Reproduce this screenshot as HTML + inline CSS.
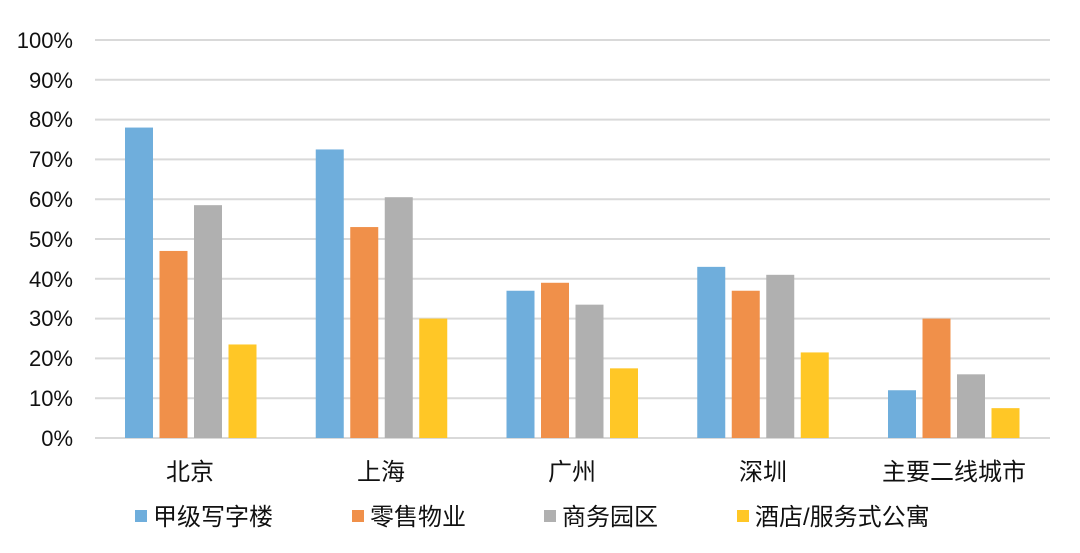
<!DOCTYPE html>
<html><head><meta charset="utf-8"><style>
html,body{margin:0;padding:0;background:#fff;}
svg text{font-family:"Liberation Sans","Noto Sans CJK SC",sans-serif;fill:#111;}
</style></head><body>
<svg width="1080" height="548" xmlns="http://www.w3.org/2000/svg">
<g stroke="#d9d9d9" stroke-width="2">
<line x1="95" x2="1050" y1="40" y2="40"/><line x1="95" x2="1050" y1="79.8" y2="79.8"/>
<line x1="95" x2="1050" y1="119.6" y2="119.6"/><line x1="95" x2="1050" y1="159.4" y2="159.4"/>
<line x1="95" x2="1050" y1="199.2" y2="199.2"/><line x1="95" x2="1050" y1="239" y2="239"/>
<line x1="95" x2="1050" y1="278.8" y2="278.8"/><line x1="95" x2="1050" y1="318.6" y2="318.6"/>
<line x1="95" x2="1050" y1="358.4" y2="358.4"/><line x1="95" x2="1050" y1="398.2" y2="398.2"/>
<line x1="95" x2="1050" y1="438" y2="438"/>
</g>
<g font-size="22" text-anchor="end">
<text x="73" y="48">100%</text><text x="73" y="88">90%</text><text x="73" y="127">80%</text>
<text x="73" y="167">70%</text><text x="73" y="207">60%</text><text x="73" y="247">50%</text>
<text x="73" y="287">40%</text><text x="73" y="326">30%</text><text x="73" y="366">20%</text>
<text x="73" y="406">10%</text><text x="73" y="446">0%</text>
</g>
<g>
<rect x="125" y="127.56" width="28" height="310.44" fill="#6FAEDC"/>
<rect x="159.5" y="250.94" width="28" height="187.06" fill="#F0904A"/>
<rect x="194" y="205.17" width="28" height="232.83" fill="#B0B0B0"/>
<rect x="228.5" y="344.47" width="28" height="93.53" fill="#FFC726"/>
<rect x="315.75" y="149.45" width="28" height="288.55" fill="#6FAEDC"/>
<rect x="350.25" y="227.06" width="28" height="210.94" fill="#F0904A"/>
<rect x="384.75" y="197.21" width="28" height="240.79" fill="#B0B0B0"/>
<rect x="419.25" y="318.6" width="28" height="119.4" fill="#FFC726"/>
<rect x="506.5" y="290.74" width="28" height="147.26" fill="#6FAEDC"/>
<rect x="541" y="282.78" width="28" height="155.22" fill="#F0904A"/>
<rect x="575.5" y="304.67" width="28" height="133.33" fill="#B0B0B0"/>
<rect x="610" y="368.35" width="28" height="69.65" fill="#FFC726"/>
<rect x="697.25" y="266.86" width="28" height="171.14" fill="#6FAEDC"/>
<rect x="731.75" y="290.74" width="28" height="147.26" fill="#F0904A"/>
<rect x="766.25" y="274.82" width="28" height="163.18" fill="#B0B0B0"/>
<rect x="800.75" y="352.43" width="28" height="85.57" fill="#FFC726"/>
<rect x="888" y="390.24" width="28" height="47.76" fill="#6FAEDC"/>
<rect x="922.5" y="318.6" width="28" height="119.4" fill="#F0904A"/>
<rect x="957" y="374.32" width="28" height="63.68" fill="#B0B0B0"/>
<rect x="991.5" y="408.15" width="28" height="29.85" fill="#FFC726"/>
</g>
<g font-size="24" text-anchor="middle">
<text x="190" y="480">北京</text><text x="381" y="480">上海</text><text x="572" y="480">广州</text>
<text x="763" y="480">深圳</text><text x="954" y="480">主要二线城市</text>
</g>
<g font-size="24">
<rect x="135" y="510" width="12" height="12" fill="#6FAEDC"/><text x="153" y="525">甲级写字楼</text>
<rect x="352" y="510" width="12" height="12" fill="#F0904A"/><text x="370" y="525">零售物业</text>
<rect x="544" y="510" width="12" height="12" fill="#B0B0B0"/><text x="562" y="525">商务园区</text>
<rect x="737" y="510" width="12" height="12" fill="#FFC726"/><text x="755" y="525">酒店/服务式公寓</text>
</g>
</svg>
</body></html>
